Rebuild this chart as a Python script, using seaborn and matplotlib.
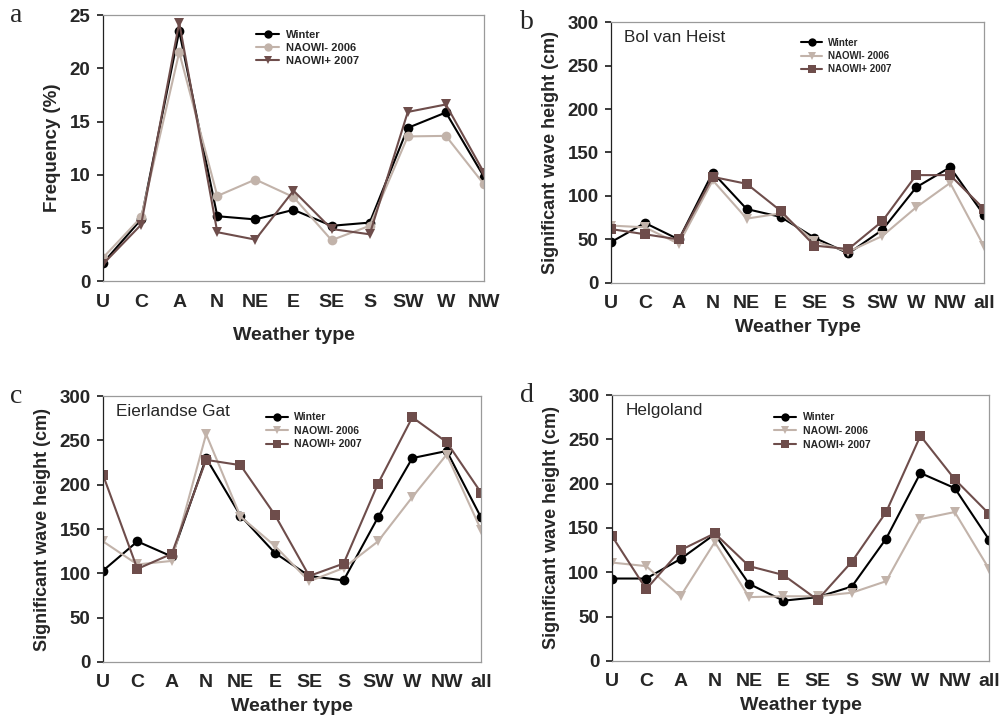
import matplotlib
matplotlib.use("Agg")
import matplotlib.pyplot as plt
import numpy as np
import pandas as pd
import seaborn as sns

sns.set_theme(style="white")
plt.rcParams["font.family"] = ["Liberation Sans", "DejaVu Sans"]

# ── Data ────────────────────────────────────────────────────
types_a = ["U", "C", "A", "N", "NE", "E", "SE", "S", "SW", "W", "NW"]
types_all = types_a + ["all"]

# a: frequency (%)
freq_winter = [1.7, 5.8, 23.5, 6.1, 5.8, 6.7, 5.2, 5.5, 14.4, 15.85, 9.8]
freq_minus = [2.2, 6.0, 21.5, 8.0, 9.55, 7.9, 3.85, 5.2, 13.6, 13.65, 9.1]
freq_plus = [1.6, 5.3, 24.3, 4.6, 3.9, 8.5, 4.9, 4.4, 15.9, 16.6, 10.2]

# b: Bol van Heist
bol_winter = [47, 69, 50, 127, 85, 76, 52, 34, 61, 110, 133, 78]
bol_minus = [66, 64, 45, 118, 74, 80, 48, 36, 54, 87, 115, 42]
bol_plus = [62, 56, 50, 122, 114, 83, 43, 39, 71, 124, 124, 85]

# c: Eierlandse Gat
eier_winter = [103, 136, 119, 230, 165, 123, 97, 92, 163, 230, 238, 163]
eier_minus = [136, 110, 114, 257, 164, 131, 91, 106, 136, 186, 234, 149]
eier_plus = [211, 105, 122, 228, 222, 166, 97, 111, 201, 276, 248, 191]

# d: Helgoland
helg_winter = [93, 93, 115, 143, 87, 68, 72, 84, 138, 212, 195, 137]
helg_minus = [111, 107, 73, 134, 72, 73, 73, 77, 90, 160, 168, 104]
helg_plus = [141, 81, 125, 144, 107, 97, 69, 112, 168, 254, 205, 166]

series_names = ["Winter", "NAOWI- 2006", "NAOWI+ 2007"]
colors = {"Winter": "#000000", "NAOWI- 2006": "#c2b3aa", "NAOWI+ 2007": "#6e4d4b"}


def long_frame(types, values):
    rows = []
    for name, vals in zip(series_names, values):
        for i, v in enumerate(vals):
            rows.append({"pos": i, "type": types[i], "value": v, "series": name})
    return pd.DataFrame(rows)


def draw_panel(ax, types, values, markers, ylim, yticks, ylabel, xlabel,
               letter, station=None, legend_pos=(0.4, 0.97), legend_size=7.5,
               spacing=0.35, xlabelpad=5):
    df = long_frame(types, values)
    sns.lineplot(data=df, x="pos", y="value", hue="series", style="series",
                 markers=markers, dashes=False, palette=colors, ax=ax,
                 linewidth=1.5, markersize=7, markeredgewidth=0)
    ax.set_xlim(0, len(types) - 1)
    ax.set_ylim(*ylim)
    ax.set_xticks(range(len(types)))
    ax.set_xticklabels(types, fontsize=14, fontweight="bold")
    ax.set_yticks(yticks)
    ax.set_yticklabels([str(t) for t in yticks], fontsize=13.5, fontweight="bold")
    ax.tick_params(axis="x", length=4, color="#bbbbbb", pad=5)
    ax.tick_params(axis="y", length=4, color="#222222", left=True, pad=5)
    ax.set_xlabel(xlabel, fontsize=14, fontweight="bold", labelpad=xlabelpad)
    ax.set_ylabel(ylabel, fontsize=13.5 if ylabel.startswith("Freq") else 13,
                  fontweight="bold", labelpad=6)
    for side in ["top", "right", "bottom"]:
        ax.spines[side].set_color("#9a9a9a")
        ax.spines[side].set_linewidth(0.9)
    ax.spines["left"].set_color("#222222")
    ax.spines["left"].set_linewidth(0.9)
    leg = ax.legend(loc="upper left", bbox_to_anchor=legend_pos, frameon=False,
                    prop={"size": legend_size, "weight": "bold"},
                    handlelength=2.1, handletextpad=0.6, labelspacing=spacing,
                    borderaxespad=0)
    for h in leg.legend_handles:
        h.set_markersize(6)
    if station:
        ax.text(0.035, 0.94, station, transform=ax.transAxes, fontsize=12.3,
                va="center", ha="left")
    ax.text(-0.245, 1.0, letter, transform=ax.transAxes, fontsize=20,
            family=["Liberation Serif", "DejaVu Serif"], va="center", ha="left")


fig = plt.figure(figsize=(10.07, 7.19), dpi=100)
ax_a = fig.add_axes([0.1023, 0.609, 0.3783, 0.370])
ax_b = fig.add_axes([0.6068, 0.6064, 0.3704, 0.363])
ax_c = fig.add_axes([0.1023, 0.0793, 0.3754, 0.3699])
ax_d = fig.add_axes([0.6077, 0.0807, 0.3744, 0.3699])

wave_ticks = [0, 50, 100, 150, 200, 250, 300]
ylab = "Significant wave height (cm)"

draw_panel(ax_a, types_a, [freq_winter, freq_minus, freq_plus],
           {"Winter": "o", "NAOWI- 2006": "o", "NAOWI+ 2007": "v"},
           (0, 25), [0, 5, 10, 15, 20, 25], "Frequency (%)", "Weather type", "a",
           legend_pos=(0.39, 0.96), legend_size=8, spacing=0.25, xlabelpad=12)
draw_panel(ax_b, types_all, [bol_winter, bol_minus, bol_plus],
           {"Winter": "o", "NAOWI- 2006": "v", "NAOWI+ 2007": "s"},
           (0, 300), wave_ticks, ylab, "Weather Type", "b",
           station="Bol van Heist", legend_pos=(0.5, 0.955), legend_size=7)
draw_panel(ax_c, types_all, [eier_winter, eier_minus, eier_plus],
           {"Winter": "o", "NAOWI- 2006": "v", "NAOWI+ 2007": "s"},
           (0, 300), wave_ticks, ylab, "Weather type", "c",
           station="Eierlandse Gat", legend_pos=(0.42, 0.955), legend_size=7.5)
draw_panel(ax_d, types_all, [helg_winter, helg_minus, helg_plus],
           {"Winter": "o", "NAOWI- 2006": "v", "NAOWI+ 2007": "s"},
           (0, 300), wave_ticks, ylab, "Weather type", "d",
           station="Helgoland", legend_pos=(0.42, 0.95), legend_size=7.5)

fig.savefig("out.png", dpi=100)
